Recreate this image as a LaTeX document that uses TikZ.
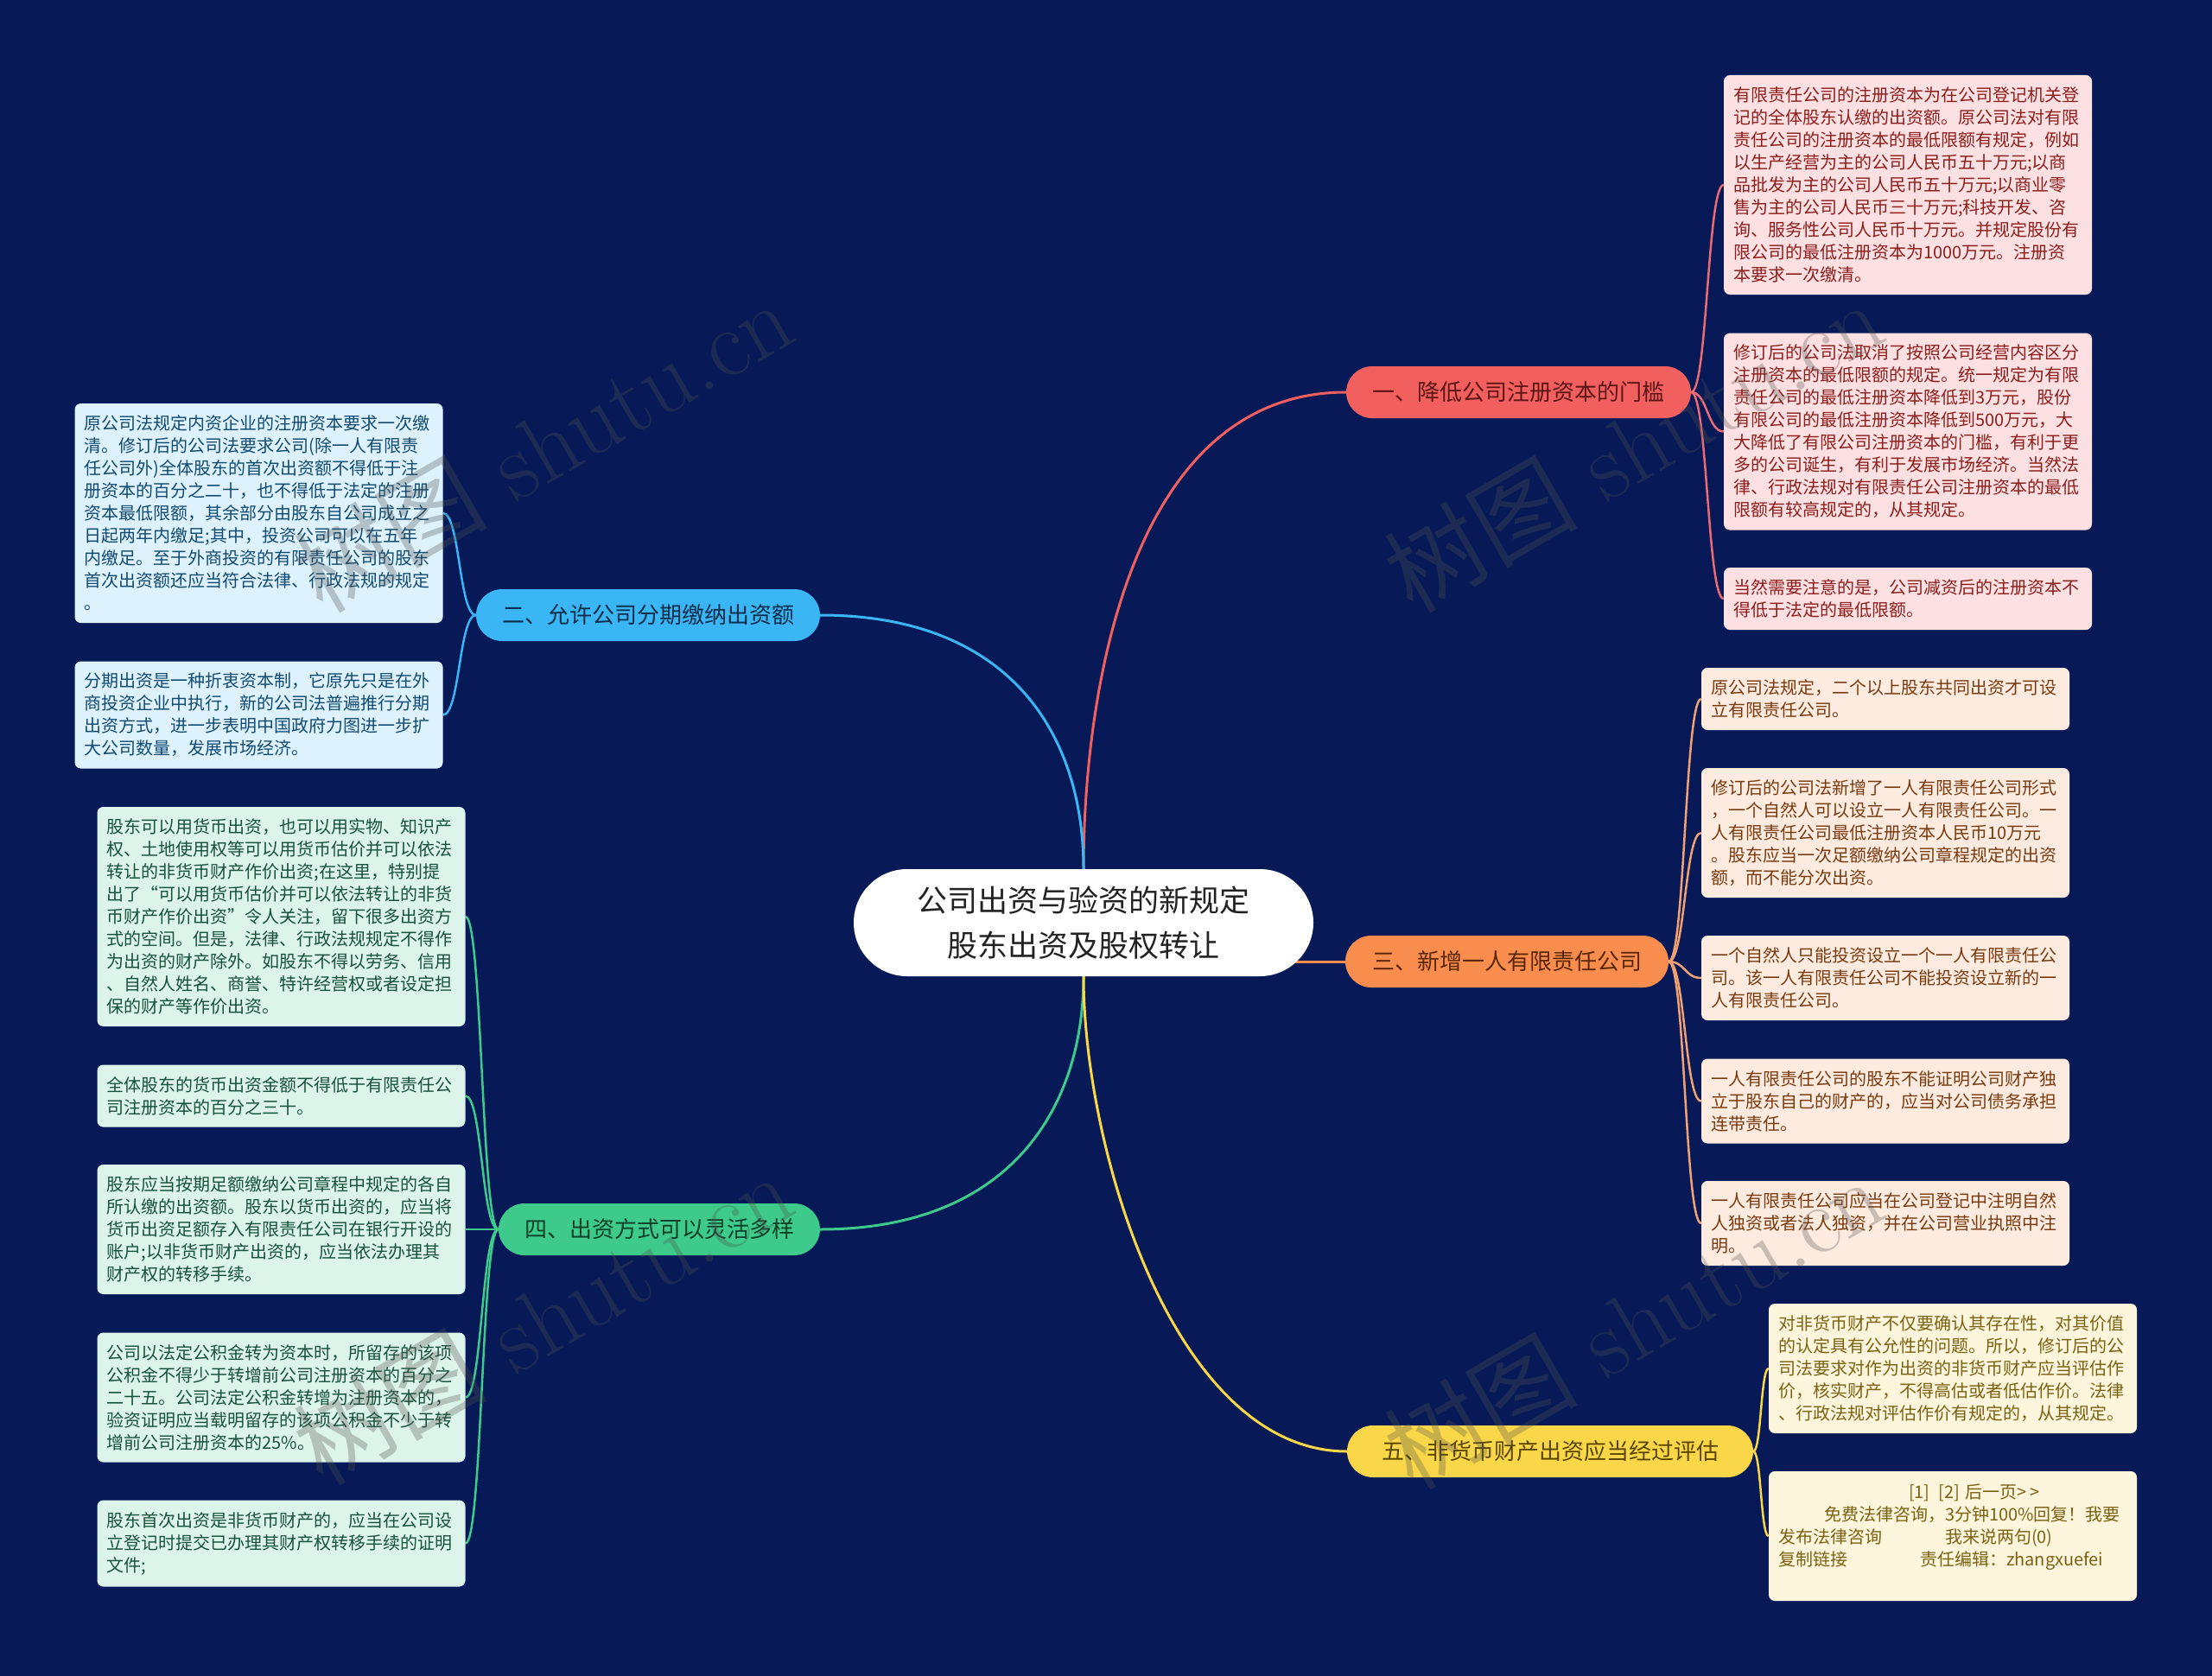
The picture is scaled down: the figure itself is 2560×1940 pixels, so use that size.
\documentclass[tikz,border=0pt]{standalone}
\usepackage{fontspec}
\newfontfamily\cjk{Noto Sans CJK SC}
\usetikzlibrary{shapes.misc}
\pgfdeclarelayer{background}
\pgfsetlayers{background,main}
\definecolor{bgc}{HTML}{071A57}
\definecolor{redb}{HTML}{F25F5F}
\definecolor{blueb}{HTML}{3BB6F5}
\definecolor{orangeb}{HTML}{F98D4D}
\definecolor{greenb}{HTML}{3DCA8A}
\definecolor{yellowb}{HTML}{FAD748}
\definecolor{redt}{HTML}{5C1414}
\definecolor{bluet}{HTML}{0D2D4A}
\definecolor{oranget}{HTML}{5A2608}
\definecolor{greent}{HTML}{0F4028}
\definecolor{yellowt}{HTML}{5A4500}
\definecolor{redl}{HTML}{FDE1E2}
\definecolor{bluel}{HTML}{DDF2FC}
\definecolor{orangel}{HTML}{FDEBDF}
\definecolor{greenl}{HTML}{DDF4EA}
\definecolor{yellowl}{HTML}{FEF6DC}
\definecolor{redlt}{HTML}{8E1D1D}
\definecolor{bluelt}{HTML}{114A72}
\definecolor{orangelt}{HTML}{7A3A10}
\definecolor{greenlt}{HTML}{17523A}
\definecolor{yellowlt}{HTML}{7B6212}
\definecolor{redc}{HTML}{EC6A72}
\definecolor{orangec}{HTML}{F2A173}
\definecolor{darktext}{HTML}{222222}
\definecolor{wmc}{HTML}{505050}
\begin{document}
\begin{tikzpicture}[x=1pt,y=-1pt,
  leaf/.style={rectangle, rounded corners=7pt, text width=404pt, inner xsep=11pt, inner ysep=0pt, align=left, font=\cjk\fontsize{20}{26}\selectfont},
  branch/.style={rounded rectangle, minimum height=60pt, inner sep=0pt, font=\cjk\fontsize{26}{30}\selectfont},
  mainconn/.style={line width=3pt},
  leafconn/.style={line width=2.5pt},
  wmark/.style={text=wmc, text opacity=0.3, rotate=30, font=\fontsize{112}{116}\selectfont}]
\useasboundingbox (0,0) rectangle (2560,1940);
\begin{pgfonlayer}{background}
\fill[bgc] (0,0) rectangle (2560,1940);
\end{pgfonlayer}

% central node
\node[rounded rectangle, fill=white, minimum width=532pt, minimum height=124pt, inner sep=0pt, align=center, text=darktext, font=\cjk\fontsize{35}{52}\selectfont] (c) at (1254,1068) {公司出资与验资的新规定\\股东出资及股权转让};

% branches
\node[branch, fill=redb, text=redt, minimum width=399pt] (r) at (1757.5,454) {一、降低公司注册资本的门槛};
\node[branch, fill=blueb, text=bluet, minimum width=398pt] (b) at (750,712) {二、允许公司分期缴纳出资额};
\node[branch, fill=orangeb, text=oranget, minimum width=374pt] (o) at (1744,1113) {三、新增一人有限责任公司};
\node[branch, fill=greenb, text=greent, minimum width=372pt] (g) at (763,1423) {四、出资方式可以灵活多样};
\node[branch, fill=yellowb, text=yellowt, minimum width=470pt] (y) at (1794,1680) {五、非货币财产出资应当经过评估};

% red leaves
\node[leaf, fill=redl, text=redlt, minimum height=254pt] (r1) at (2208,214) {有限责任公司的注册资本为在公司登记机关登\\记的全体股东认缴的出资额。原公司法对有限\\责任公司的注册资本的最低限额有规定，例如\\以生产经营为主的公司人民币五十万元;以商\\品批发为主的公司人民币五十万元;以商业零\\售为主的公司人民币三十万元;科技开发、咨\\询、服务性公司人民币十万元。并规定股份有\\限公司的最低注册资本为1000万元。注册资\\本要求一次缴清。};
\node[leaf, fill=redl, text=redlt, minimum height=228pt] (r2) at (2208,499.5) {修订后的公司法取消了按照公司经营内容区分\\注册资本的最低限额的规定。统一规定为有限\\责任公司的最低注册资本降低到3万元，股份\\有限公司的最低注册资本降低到500万元，大\\大降低了有限公司注册资本的门槛，有利于更\\多的公司诞生，有利于发展市场经济。当然法\\律、行政法规对有限责任公司注册资本的最低\\限额有较高规定的，从其规定。};
\node[leaf, fill=redl, text=redlt, minimum height=72pt] (r3) at (2208,693) {当然需要注意的是，公司减资后的注册资本不\\得低于法定的最低限额。};

% blue leaves
\node[leaf, fill=bluel, text=bluelt, minimum height=254pt] (b1) at (299.5,594) {原公司法规定内资企业的注册资本要求一次缴\\清。修订后的公司法要求公司(除一人有限责\\任公司外)全体股东的首次出资额不得低于注\\册资本的百分之二十，也不得低于法定的注册\\资本最低限额，其余部分由股东自公司成立之\\日起两年内缴足;其中，投资公司可以在五年\\内缴足。至于外商投资的有限责任公司的股东\\首次出资额还应当符合法律、行政法规的规定\\。};
\node[leaf, fill=bluel, text=bluelt, minimum height=124pt] (b2) at (299.5,827.5) {分期出资是一种折衷资本制，它原先只是在外\\商投资企业中执行，新的公司法普遍推行分期\\出资方式，进一步表明中国政府力图进一步扩\\大公司数量，发展市场经济。};

% orange leaves
\node[leaf, fill=orangel, text=orangelt, minimum height=72pt] (o1) at (2182,809) {原公司法规定，二个以上股东共同出资才可设\\立有限责任公司。};
\node[leaf, fill=orangel, text=orangelt, minimum height=150pt] (o2) at (2182,964) {修订后的公司法新增了一人有限责任公司形式\\，一个自然人可以设立一人有限责任公司。一\\人有限责任公司最低注册资本人民币10万元\\。股东应当一次足额缴纳公司章程规定的出资\\额，而不能分次出资。};
\node[leaf, fill=orangel, text=orangelt, minimum height=98pt] (o3) at (2182,1132) {一个自然人只能投资设立一个一人有限责任公\\司。该一人有限责任公司不能投资设立新的一\\人有限责任公司。};
\node[leaf, fill=orangel, text=orangelt, minimum height=98pt] (o4) at (2182,1274.5) {一人有限责任公司的股东不能证明公司财产独\\立于股东自己的财产的，应当对公司债务承担\\连带责任。};
\node[leaf, fill=orangel, text=orangelt, minimum height=98pt] (o5) at (2182,1416) {一人有限责任公司应当在公司登记中注明自然\\人独资或者法人独资，并在公司营业执照中注\\明。};

% green leaves
\node[leaf, fill=greenl, text=greenlt, minimum height=254pt] (g1) at (325.5,1061) {股东可以用货币出资，也可以用实物、知识产\\权、土地使用权等可以用货币估价并可以依法\\转让的非货币财产作价出资;在这里，特别提\\出了“可以用货币估价并可以依法转让的非货\\币财产作价出资”令人关注，留下很多出资方\\式的空间。但是，法律、行政法规规定不得作\\为出资的财产除外。如股东不得以劳务、信用\\、自然人姓名、商誉、特许经营权或者设定担\\保的财产等作价出资。};
\node[leaf, fill=greenl, text=greenlt, minimum height=72pt] (g2) at (325.5,1268.5) {全体股东的货币出资金额不得低于有限责任公\\司注册资本的百分之三十。};
\node[leaf, fill=greenl, text=greenlt, minimum height=150pt] (g3) at (325.5,1423) {股东应当按期足额缴纳公司章程中规定的各自\\所认缴的出资额。股东以货币出资的，应当将\\货币出资足额存入有限责任公司在银行开设的\\账户;以非货币财产出资的，应当依法办理其\\财产权的转移手续。};
\node[leaf, fill=greenl, text=greenlt, minimum height=150pt] (g4) at (325.5,1617.5) {公司以法定公积金转为资本时，所留存的该项\\公积金不得少于转增前公司注册资本的百分之\\二十五。公司法定公积金转增为注册资本的，\\验资证明应当载明留存的该项公积金不少于转\\增前公司注册资本的25\%。};
\node[leaf, fill=greenl, text=greenlt, minimum height=100pt] (g5) at (325.5,1786.5) {股东首次出资是非货币财产的，应当在公司设\\立登记时提交已办理其财产权转移手续的证明\\文件;};

% yellow leaves
\node[leaf, fill=yellowl, text=yellowlt, minimum height=150pt] (y1) at (2260,1584) {对非货币财产不仅要确认其存在性，对其价值\\的认定具有公允性的问题。所以，修订后的公\\司法要求对作为出资的非货币财产应当评估作\\价，核实财产，不得高估或者低估作价。法律\\、行政法规对评估作价有规定的，从其规定。};
\node[leaf, fill=yellowl, text=yellowlt, minimum height=150pt] (y2) at (2260,1778) {\hspace*{151pt}[1]\hspace{10pt}[2] 后一页>\hspace{3pt}>\\\hspace*{53pt}免费法律咨询，3分钟100\%回复！我要\\\makebox[193pt][l]{发布法律咨询}我来说两句(0)\\\makebox[164pt][l]{复制链接}责任编辑：zhangxuefei\\\mbox{}};

% watermarks
\node[wmark] (w1) at (628,515) {{\cjk 树图} shutu.cn};
\node[wmark] (w2) at (1890,515) {{\cjk 树图} shutu.cn};
\node[wmark] (w3) at (628,1525) {{\cjk 树图} shutu.cn};
\node[wmark] (w4) at (1890,1530) {{\cjk 树图} shutu.cn};

% connectors
\begin{pgfonlayer}{background}
\draw[mainconn, redb] (c.north) .. controls +(0,-200) and +(-252,0) .. (r.west);
\draw[mainconn, blueb] (c.north) .. controls +(0,-150) and +(225,0) .. (b.east);
\draw[mainconn, orangeb] (c.center |- o.west) -- (o.west);
\draw[mainconn, greenb] (c.south) .. controls +(0,150) and +(222,0) .. (g.east);
\draw[mainconn, yellowb] (c.south) .. controls +(0,200) and +(-200,0) .. (y.west);
\foreach \n in {r1,r2,r3}
  \draw[leafconn, redc] (r.east) .. controls +(19,0) and +(-19,0) .. (\n.west);
\foreach \n in {o1,o2,o3,o4,o5}
  \draw[leafconn, orangec] (o.east) .. controls +(19,0) and +(-19,0) .. (\n.west);
\foreach \n in {y1,y2}
  \draw[leafconn, yellowb] (y.east) .. controls +(9,0) and +(-9,0) .. (\n.west);
\foreach \n in {b1,b2}
  \draw[leafconn, blueb] (b.west) .. controls +(-19.5,0) and +(19.5,0) .. (\n.east);
\foreach \n in {g1,g2,g3,g4,g5}
  \draw[leafconn, greenb] (g.west) .. controls +(-19.5,0) and +(19.5,0) .. (\n.east);
\end{pgfonlayer}
\end{tikzpicture}
\end{document}
